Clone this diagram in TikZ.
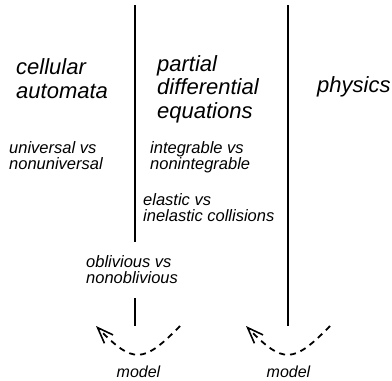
\documentclass[tikz,border=0pt]{standalone}
\usepackage{fontspec}
\setmainfont{Liberation Sans}
\usetikzlibrary{arrows.meta}
\begin{document}
\begin{tikzpicture}[x=1pt,y=-1pt,
  big/.style={font=\fontsize{22}{23.5}\selectfont\itshape, inner sep=0pt, align=left, anchor=base west},
  small/.style={font=\fontsize{16.5}{16}\selectfont\itshape, inner sep=0pt, align=left, anchor=base west},
  modeltext/.style={font=\fontsize{16}{16}\selectfont\itshape, inner sep=0pt, anchor=base},
  divider/.style={line width=2pt},
  modelarc/.style={line width=1.8pt, dash pattern=on 6pt off 5pt,
    -{Straight Barb[length=16pt,width=12pt,line width=1.6pt]}}
]
\useasboundingbox (0,0) rectangle (392,381);

% headings (anchor = baseline of the last line)
\node[big] (ca) at (16,98) {cellular\\automata};
\node[big] (pde) at (157,118) {partial\\differential\\equations};
\node[big] (phys) at (317,92) {physics};

% distinctions
\node[small] (univ) at (9,169) {universal vs\\nonuniversal};
\node[small] (integ) at (150,169) {integrable vs\\nonintegrable};
\node[small] (elast) at (143,221) {elastic vs\\inelastic collisions};
\node[small] (obliv) at (86,283) {oblivious vs\\nonoblivious};

% dividers
\coordinate (divAtop) at (135,5);
\coordinate (divAmid1) at (135,242);
\coordinate (divAmid2) at (135,298);
\coordinate (divAbot) at (135,326);
\coordinate (divBtop) at (287.5,5);
\coordinate (divBbot) at (287.5,326);
\draw[divider] (divAtop) -- (divAmid1);
\draw[divider] (divAmid2) -- (divAbot);
\draw[divider] (divBtop) -- (divBbot);

% model arcs
\coordinate (arcAstart) at (180,326);
\coordinate (arcAend) at (96,326);
\coordinate (arcBstart) at (330,326);
\coordinate (arcBend) at (246,326);
\draw[modelarc] (arcAstart) .. controls (143,364) and (133,364) .. (arcAend);
\draw[modelarc] (arcBstart) .. controls (293,364) and (283,364) .. (arcBend);

\node[modeltext] (modelA) at (138.5,377) {model};
\node[modeltext] (modelB) at (288.5,377) {model};
\end{tikzpicture}
\end{document}
